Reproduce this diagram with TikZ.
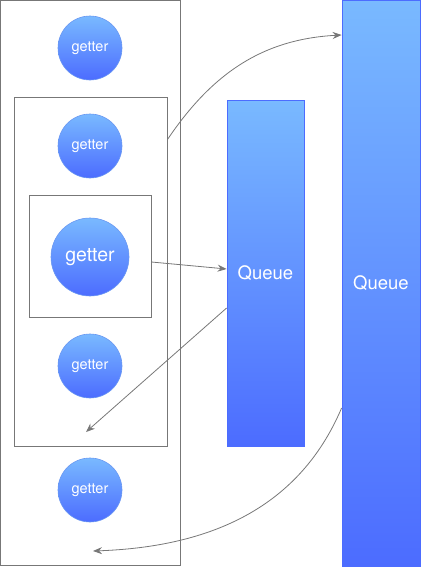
\documentclass[tikz,border=0pt]{standalone}
\usepackage{fontspec}
\setmainfont{TeX Gyre Heros}
\usetikzlibrary{arrows.meta}
\definecolor{blueTop}{HTML}{79B9FF}
\definecolor{blueBot}{HTML}{4C6CFF}
\definecolor{blueEdge}{HTML}{6A98F2}
\definecolor{lineGray}{HTML}{777777}
\tikzset{
  frame/.style={draw=lineGray, line width=0.9pt, inner sep=0pt},
  getter/.style={shape=circle, top color=blueTop, bottom color=blueBot, draw=blueEdge, line width=0.6pt, text=white, inner sep=0pt, minimum size=64pt, font=\fontsize{14.5}{14.5}\selectfont},
  queue/.style={rectangle, top color=blueTop, bottom color=blueBot, draw=blueBot, line width=0.8pt, text=white, inner sep=0pt, font=\fontsize{18.5}{18.5}\selectfont},
  flow/.style={draw=lineGray, line width=0.8pt, -{Stealth[length=9pt, width=7pt, inset=3pt]}}
}
\begin{document}
\begin{tikzpicture}[x=1pt, y=1pt]
\useasboundingbox (0,0) rectangle (421,-568);
\node[frame, minimum width=180pt, minimum height=565pt] (outer) at (90.5,-283) {};
\node[frame, minimum width=153pt, minimum height=349pt] (mid) at (90.5,-271.5) {};
\node[frame, minimum width=122pt, minimum height=122pt] (inner) at (90,-256) {};
\node[getter] (g1) at (90,-48) {getter};
\node[getter] (g2) at (90,-146) {getter};
\node[getter, minimum size=78pt, font=\fontsize{19.5}{19.5}\selectfont] (g3) at (90,-257) {getter};
\node[getter] (g4) at (90,-366) {getter};
\node[getter] (g5) at (90,-490) {getter};
\node[queue, minimum width=77pt, minimum height=346pt] (q1) at (265.5,-273) {Queue};
\node[queue, minimum width=78pt, minimum height=566pt] (q2) at (381,-283) {Queue};
\coordinate (slot) at (86,-432);
\coordinate (tail) at (93,-551);
\path [flow] ([yshift=-43pt]mid.north east) to[out=56, in=183] ([yshift=248pt]q2.west);
\path [flow] ([yshift=-6pt]inner.east) -- ([yshift=4pt]q1.west);
\path [flow] ([yshift=-35pt]q1.west) -- (slot);
\path [flow] ([yshift=-125pt]q2.west) to[out=247, in=2] (tail);
\end{tikzpicture}
\end{document}
